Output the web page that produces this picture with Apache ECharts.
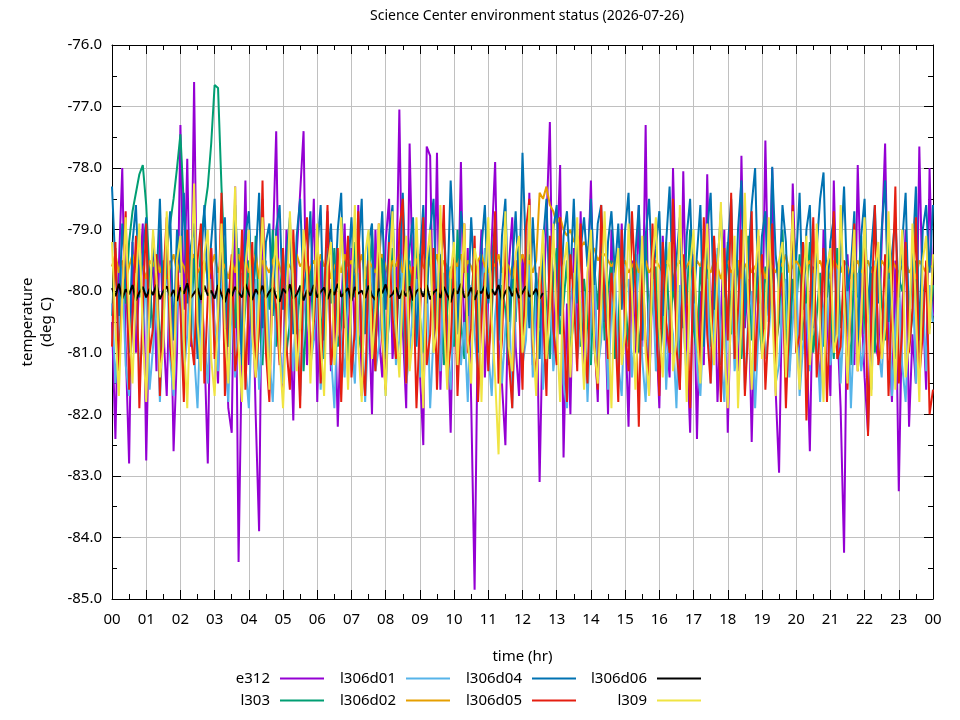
<!DOCTYPE html>
<html>
<head>
<meta charset="utf-8">
<script src="https://cdn.jsdelivr.net/npm/echarts/dist/echarts.min.js"></script>
<style>html,body{margin:0;padding:0;background:#fff}#c{width:960px;height:720px}</style>
</head>
<body>
<div id="c"></div>
<script>
// samples every 0.1 hr (6 minutes)
const SAMPLES_PER_HOUR = 10;
const xTickLabels = ['00','01','02','03','04','05','06','07','08','09','10','11','12','13','14','15','16','17','18','19','20','21','22','23','00'];
const seriesNames = ['e312','l303','l306d01','l306d02','l306d04','l306d05','l306d06','l309'];

const e312 = [
-80.5,-82.4,-79.6,-78.0,-80.9,-82.8,-79.2,-81.0,-79.8,-78.9,
-82.75,-80.1,-79.4,-81.3,-79.0,-80.6,-81.7,-79.5,-82.6,-81.0,
-77.3,-80.3,-77.85,-80.9,-76.6,-81.0,-79.7,-80.9,-82.8,-79.3,
-80.6,-81.5,-79.1,-80.2,-81.9,-82.3,-78.3,-84.4,-80.8,-78.2,
-81.2,-79.6,-82.0,-83.9,-78.5,-80.7,-81.4,-79.3,-77.4,-80.9,
-81.6,-79.0,-80.3,-82.1,-79.4,-78.4,-77.4,-81.2,-80.0,-78.5,
-81.8,-79.5,-80.6,-78.7,-81.3,-79.9,-82.2,-80.4,-78.9,-81.0,
-79.3,-80.8,-78.6,-81.7,-79.6,-80.2,-82.0,-79.0,-80.7,-81.4,
-79.2,-78.5,-81.1,-80.3,-77.05,-80.6,-81.9,-77.6,-80.1,-79.4,
-81.3,-82.5,-77.65,-77.8,-80.9,-77.75,-81.6,-79.8,-80.4,-82.3,
-79.5,-80.7,-77.9,-81.0,-79.3,-81.8,-84.85,-80.2,-79.0,-81.4,
-80.1,-79.2,-77.9,-80.8,-81.5,-82.5,-79.6,-78.8,-80.9,-81.7,
-79.4,-80.5,-78.4,-81.2,-79.7,-83.1,-80.3,-78.9,-77.25,-81.1,
-79.6,-77.95,-82.7,-80.2,-82.0,-79.3,-80.8,-78.7,-81.5,-79.9,
-78.2,-80.6,-81.8,-79.4,-80.1,-82.0,-79.0,-80.7,-81.3,-78.9,
-80.4,-82.2,-79.5,-81.0,-78.6,-80.9,-77.3,-81.7,-79.8,-80.5,
-81.9,-79.1,-80.6,-81.4,-78.0,-80.2,-81.6,-78.05,-80.8,-82.3,
-79.4,-82.4,-80.0,-81.2,-78.1,-80.7,-79.3,-81.8,-80.4,-79.0,
-82.3,-80.1,-79.5,-81.3,-77.8,-80.6,-79.8,-82.45,-80.2,-79.1,
-81.0,-77.55,-80.4,-78.0,-81.6,-82.95,-79.7,-80.8,-81.3,-78.25,
-80.0,-81.4,-79.2,-80.7,-82.6,-79.6,-80.9,-81.5,-79.0,-80.3,
-81.7,-78.2,-80.5,-81.9,-84.25,-79.4,-80.6,-81.2,-77.95,-80.1,
-81.4,-82.3,-79.7,-80.8,-81.1,-79.2,-77.6,-80.6,-81.8,-79.5,
-83.25,-80.3,-79.0,-82.2,-80.7,-81.5,-77.65,-80.2,-81.6,-78.0,
-80.4
];

const l303 = [
-80.4,-79.3,-80.9,-79.6,-80.2,-79.2,-78.7,-78.4,-78.1,-77.95,
-78.6,-79.8,-80.7,-79.5,-81.0,-80.1,-79.3,-78.9,-78.5,-78.0,
-77.45,-78.6,-79.7,-80.8,-79.4,-80.5,-79.2,-78.7,-78.3,-77.6,
-76.65,-76.7,-78.3,-79.6,-80.9,-79.8,-80.6,-79.3,-81.1,-80.2,
-79.5,-80.8,-79.1,-80.4,-81.2,-79.7,-80.3,-79.0,-80.9,-80.1,
-79.4,-81.0,-80.5,-79.2,-80.7,-79.9,-81.3,-80.2,-79.6,-80.8,
-79.1,-80.4,-81.1,-79.8,-80.2,-79.3,-80.9,-80.6,-79.5,-81.2,
-80.0,-79.2,-80.7,-81.0,-79.6,-80.3,-79.0,-80.8,-80.1,-79.4,
-81.1,-80.5,-79.3,-80.9,-79.7,-80.2,-81.3,-79.5,-80.6,-79.1,
-80.4,-81.0,-79.8,-79.2,-80.7,-80.1,-79.4,-81.2,-80.3,-79.6,
-80.9,-79.0,-80.5,-81.1,-79.7,-80.2,-79.3,-80.8,-80.0,-79.5,
-81.0,-80.4,-79.1,-80.7,-79.9,-80.3,-81.2,-79.6,-80.5,-79.2,
-80.8,-80.1,-79.4,-81.0,-79.7,-80.6,-79.2,-80.3,-81.1,-79.8,
-79.3,-80.7,-80.2,-79.5,-81.0,-80.4,-79.1,-80.9,-79.8,-80.5,
-81.2,-79.6,-80.3,-79.2,-80.8,-80.0,-79.5,-81.1,-80.6,-79.3,
-80.1,-80.9,-79.7,-79.4,-81.0,-80.3,-79.1,-80.7,-80.2,-79.6,
-81.3,-80.5,-79.2,-80.8,-79.9,-80.4,-81.1,-79.5,-80.2,-79.0,
-80.6,-81.0,-79.6,-80.3,-79.3,-80.9,-80.1,-79.4,-81.2,-80.5,
-79.2,-80.7,-80.0,-79.5,-81.1,-80.3,-79.1,-80.8,-79.7,-80.4,
-81.0,-79.6,-80.2,-79.3,-80.9,-80.5,-79.0,-80.6,-81.2,-79.8,
-80.3,-79.4,-80.8,-80.1,-79.2,-81.0,-80.4,-79.7,-80.9,-79.5,
-80.2,-81.1,-79.3,-80.6,-79.9,-80.4,-81.2,-79.5,-80.1,-79.1,
-80.7,-80.3,-79.6,-81.0,-79.4,-80.2,-80.8,-79.2,-80.5,-81.1,
-79.8,-80.0,-79.3,-80.9,-80.4,-79.5,-81.0,-80.2,-79.7,-80.6,
-79.9
];

const l306d01 = [
-80.2,-81.5,-80.6,-79.6,-81.2,-81.7,-80.4,-79.9,-81.3,-80.8,
-79.7,-81.6,-80.9,-80.1,-81.8,-80.5,-79.5,-81.1,-81.7,-80.3,
-79.9,-81.4,-80.7,-79.4,-81.0,-81.9,-80.2,-80.8,-81.5,-79.8,
-80.6,-81.3,-79.6,-80.9,-81.8,-80.1,-81.4,-80.5,-79.7,-81.2,
-81.9,-80.3,-79.8,-81.6,-80.7,-79.5,-81.1,-81.8,-80.2,-80.9,
-81.5,-79.9,-80.6,-81.3,-80.0,-81.7,-80.4,-79.6,-81.2,-80.8,
-79.8,-81.6,-80.5,-79.3,-81.0,-81.9,-80.3,-80.7,-81.4,-79.9,
-80.8,-81.5,-79.7,-80.4,-81.8,-80.6,-79.5,-81.3,-80.9,-80.1,
-81.7,-80.2,-79.6,-81.2,-80.8,-79.4,-81.5,-81.0,-80.3,-79.8,
-81.4,-80.6,-79.5,-81.9,-80.7,-80.0,-81.3,-79.7,-80.9,-81.6,
-80.1,-79.6,-81.2,-80.5,-81.8,-79.9,-80.7,-81.4,-80.2,-79.3,
-81.0,-81.7,-80.4,-79.8,-81.5,-80.6,-80.0,-81.9,-80.3,-79.6,
-81.2,-80.8,-79.5,-81.4,-80.1,-79.8,-81.6,-80.5,-79.9,-81.3,
-80.7,-79.6,-81.5,-81.9,-80.2,-79.7,-81.1,-80.6,-80.0,-81.8,
-80.4,-79.5,-81.3,-80.8,-79.9,-81.6,-80.3,-79.6,-81.2,-81.7,
-80.0,-79.8,-81.4,-80.6,-79.4,-81.1,-81.8,-80.2,-79.7,-81.3,
-80.9,-79.5,-81.6,-80.3,-80.7,-81.9,-79.9,-80.5,-81.4,-80.1,
-79.6,-81.2,-81.7,-80.4,-79.8,-81.5,-80.6,-79.3,-81.0,-81.8,
-80.2,-79.7,-81.3,-80.8,-79.5,-81.6,-80.4,-80.0,-81.9,-80.6,
-79.6,-81.1,-80.7,-79.9,-81.5,-81.2,-80.1,-79.8,-81.4,-80.5,
-79.5,-81.7,-80.9,-80.2,-81.3,-79.7,-80.6,-81.8,-80.3,-79.9,
-81.2,-80.7,-79.6,-81.5,-80.4,-79.8,-81.9,-80.5,-79.7,-81.3,
-80.8,-80.1,-81.6,-79.5,-80.9,-81.4,-80.2,-79.8,-81.7,-80.6,
-79.7,-81.2,-81.8,-80.3,-79.6,-81.5,-80.7,-80.0,-81.3,-79.9,
-80.5
];

const l306d02 = [
-79.6,-79.4,-79.7,-79.5,-79.8,-79.6,-79.4,-79.7,-79.5,-79.6,
-79.8,-79.5,-79.6,-79.4,-79.7,-79.5,-79.8,-79.6,-79.4,-79.7,
-79.5,-79.6,-79.8,-79.5,-79.4,-79.7,-79.6,-79.5,-79.8,-79.6,
-79.4,-79.7,-79.5,-79.6,-79.8,-79.5,-79.7,-79.4,-79.6,-79.5,
-79.7,-79.6,-79.4,-79.8,-79.5,-79.6,-79.7,-79.5,-79.4,-79.6,
-79.8,-79.5,-79.6,-79.7,-79.4,-79.6,-79.5,-79.8,-79.6,-79.5,
-79.7,-79.4,-79.6,-79.5,-79.8,-79.6,-79.5,-79.7,-79.4,-79.6,
-79.5,-79.7,-79.6,-79.4,-79.8,-79.5,-79.6,-79.7,-79.5,-79.4,
-79.6,-79.8,-79.5,-79.6,-79.4,-79.7,-79.5,-79.6,-79.8,-79.5,
-79.4,-79.6,-79.7,-79.5,-79.6,-79.4,-79.7,-79.5,-79.6,-79.8,
-79.5,-79.6,-79.4,-79.7,-79.5,-79.6,-79.8,-79.5,-79.4,-79.6,
-79.7,-79.5,-79.6,-79.4,-79.7,-79.5,-79.6,-79.8,-79.5,-79.6,
-79.4,-79.6,-79.5,-79.7,-79.5,-78.4,-78.5,-78.3,-78.6,-78.7,
-78.9,-78.8,-79.0,-79.1,-79.0,-79.2,-79.1,-79.3,-79.2,-79.3,
-79.4,-79.3,-79.5,-79.4,-79.4,-79.5,-79.6,-79.5,-79.4,-79.6,
-79.5,-79.7,-79.6,-79.5,-79.7,-79.6,-79.5,-79.7,-79.6,-79.5,
-79.6,-79.7,-79.5,-79.6,-79.8,-79.6,-79.5,-79.7,-79.6,-79.5,
-79.7,-79.5,-79.6,-79.4,-79.6,-79.7,-79.5,-79.6,-79.8,-79.6,
-79.5,-79.7,-79.6,-79.5,-79.8,-79.6,-79.5,-79.7,-79.6,-79.5,
-79.6,-79.8,-79.5,-79.6,-79.7,-79.5,-79.6,-79.4,-79.7,-79.6,
-79.5,-79.6,-79.8,-79.6,-79.5,-79.7,-79.6,-79.5,-79.7,-79.6,
-79.8,-79.5,-79.6,-79.7,-79.5,-79.6,-79.8,-79.6,-79.5,-79.7,
-79.6,-79.5,-79.7,-79.6,-79.8,-79.5,-79.6,-79.7,-79.5,-79.6,
-79.7,-79.6,-79.5,-79.7,-79.6,-79.8,-79.5,-79.6,-79.7,-79.6,
-79.6
];

const l306d04 = [
-78.3,-79.6,-80.4,-78.9,-79.8,-81.0,-79.2,-78.6,-80.1,-79.4,
-78.8,-80.6,-79.1,-79.9,-78.5,-80.3,-79.5,-78.7,-80.8,-79.0,
-79.7,-78.4,-80.2,-79.3,-78.9,-81.1,-79.6,-78.6,-80.0,-79.2,
-78.5,-80.5,-79.4,-78.8,-80.9,-79.7,-78.6,-79.9,-81.2,-79.1,
-78.7,-80.1,-79.5,-78.4,-80.6,-79.2,-78.9,-80.4,-79.0,-78.6,
-80.3,-79.4,-78.8,-80.7,-79.1,-78.5,-80.0,-79.6,-78.7,-80.5,
-79.3,-78.6,-80.8,-79.5,-78.9,-80.2,-79.0,-78.4,-80.6,-79.7,
-78.8,-80.1,-79.4,-78.5,-80.7,-79.2,-78.9,-81.0,-79.6,-78.7,
-80.3,-79.1,-78.6,-80.5,-79.8,-78.4,-80.0,-79.3,-78.8,-80.9,
-79.5,-78.6,-80.2,-79.0,-78.5,-80.6,-79.7,-78.9,-80.1,-78.2,
-79.4,-80.7,-78.7,-79.2,-80.4,-78.8,-79.9,-81.0,-79.3,-78.6,
-80.2,-79.5,-78.9,-80.8,-79.1,-78.5,-80.5,-79.6,-78.7,-80.0,
-77.75,-79.4,-80.6,-78.8,-79.9,-81.1,-79.2,-78.5,-80.3,-79.0,
-78.6,-80.4,-79.1,-78.7,-79.8,-78.5,-80.2,-79.3,-78.8,-79.6,
-78.5,-79.9,-78.9,-78.6,-80.5,-79.2,-78.7,-79.7,-78.9,-80.3,
-79.0,-78.4,-80.1,-79.4,-78.6,-80.8,-79.1,-78.5,-79.8,-79.3,
-78.7,-80.4,-79.2,-78.3,-80.0,-79.5,-78.8,-80.6,-79.1,-78.5,
-80.2,-79.4,-78.6,-80.9,-79.0,-78.4,-80.3,-79.6,-78.7,-80.1,
-79.3,-78.5,-80.7,-79.0,-78.2,-80.4,-79.5,-78.6,-78.0,-80.2,
-79.1,-78.7,-80.5,-77.98,-79.4,-80.0,-78.6,-79.2,-80.8,-78.9,
-79.5,-78.4,-80.3,-79.0,-78.6,-80.6,-79.3,-78.5,-78.07,-80.1,
-79.2,-78.8,-80.7,-79.4,-78.3,-80.0,-79.6,-78.7,-80.9,-79.1,
-78.5,-80.4,-79.3,-78.6,-80.2,-79.0,-78.2,-80.5,-79.4,-78.8,
-80.1,-79.2,-78.4,-80.6,-79.5,-78.3,-80.8,-79.0,-78.6,-79.7,
-78.6
];

const l306d05 = [
-80.9,-79.2,-81.3,-80.0,-78.7,-81.6,-80.4,-79.1,-81.9,-80.2,
-78.9,-81.0,-80.6,-79.4,-81.7,-79.8,-78.8,-80.9,-81.4,-79.6,
-80.3,-81.8,-79.0,-80.7,-81.2,-79.5,-78.9,-81.5,-80.1,-79.3,
-81.1,-80.5,-78.4,-81.7,-80.2,-79.4,-81.3,-80.8,-79.0,-81.6,
-80.0,-79.2,-81.4,-80.6,-78.2,-81.0,-81.8,-79.7,-80.3,-81.2,
-79.3,-80.9,-81.6,-79.0,-80.4,-81.9,-79.6,-78.8,-81.1,-80.5,
-79.4,-81.5,-80.1,-78.6,-81.2,-80.7,-79.3,-81.8,-80.0,-79.1,
-81.4,-80.6,-78.7,-81.0,-81.7,-79.5,-80.3,-81.3,-78.9,-80.8,
-81.6,-79.2,-80.4,-81.1,-79.0,-78.5,-81.5,-80.2,-79.6,-81.9,
-80.5,-78.8,-81.2,-80.7,-79.3,-81.6,-80.0,-78.6,-81.4,-80.9,
-79.4,-81.7,-80.3,-78.9,-81.0,-80.6,-79.1,-81.8,-80.4,-79.7,
-81.3,-80.1,-78.7,-81.5,-80.8,-79.2,-81.1,-81.9,-79.5,-80.2,
-81.6,-79.0,-78.5,-80.9,-81.4,-79.6,-80.3,-81.7,-79.1,-80.6,
-81.2,-78.8,-80.5,-81.8,-79.4,-80.1,-81.3,-78.9,-80.7,-81.5,
-79.3,-80.9,-81.6,-78.6,-80.2,-81.1,-79.7,-80.4,-81.8,-79.0,
-80.6,-81.3,-78.7,-80.0,-82.2,-79.5,-80.8,-81.4,-78.9,-80.3,
-81.7,-79.2,-80.5,-81.0,-78.5,-80.9,-81.6,-79.4,-80.1,-81.9,
-79.6,-80.4,-81.2,-78.8,-80.7,-81.5,-79.1,-80.2,-81.8,-79.3,
-80.8,-78.4,-81.1,-80.3,-79.0,-81.7,-80.6,-78.7,-81.3,-80.0,
-79.4,-81.6,-80.5,-78.9,-81.2,-80.1,-79.7,-81.9,-80.4,-78.6,
-81.0,-80.7,-79.2,-82.1,-80.3,-78.8,-81.4,-80.6,-79.3,-81.8,
-80.2,-78.7,-81.1,-80.9,-79.5,-81.6,-80.0,-78.9,-81.3,-80.5,
-79.1,-82.35,-80.4,-78.6,-81.2,-80.8,-79.4,-81.7,-80.1,-78.3,
-81.5,-80.6,-79.2,-81.0,-80.3,-78.8,-81.4,-80.7,-79.5,-82.0,
-81.6
];

// logged only until about 12.6 hr
const l306d06 = [
-79.95,-80.08,-79.88,-80.12,-79.97,-80.05,-79.90,-80.15,-80.02,-79.93,
-80.10,-79.96,-80.06,-79.89,-80.13,-80.00,-79.92,-80.09,-79.98,-80.16,
-79.94,-80.04,-79.87,-80.11,-80.03,-79.95,-80.14,-79.91,-80.07,-79.99,
-80.12,-79.90,-80.05,-80.18,-79.96,-80.08,-79.93,-80.02,-80.10,-79.88,
-80.04,-80.14,-79.97,-80.06,-79.91,-80.11,-80.01,-79.94,-80.09,-80.17,
-79.96,-80.03,-79.89,-80.12,-80.05,-79.92,-80.15,-79.98,-80.07,-79.90,
-80.10,-80.01,-79.94,-80.13,-79.97,-80.06,-79.88,-80.09,-80.02,-79.95,
-80.16,-79.93,-80.04,-79.99,-80.11,-79.91,-80.07,-80.14,-79.96,-80.03,
-79.89,-80.10,-80.05,-79.94,-80.12,-79.98,-80.08,-79.92,-80.15,-80.00,
-79.95,-80.09,-79.90,-80.13,-80.02,-79.97,-80.11,-79.93,-80.06,-80.18,
-79.96,-80.04,-79.88,-80.10,-80.07,-79.94,-80.14,-79.99,-80.03,-79.91,
-80.12,-79.97,-80.06,-79.90,-80.15,-80.01,-79.93,-80.08,-79.95,-80.11,
-80.02,-79.92,-80.09,-80.05,-79.96,-80.12,-80.03
];

const l309 = [
-79.2,-80.6,-81.7,-80.1,-78.8,-80.4,-81.5,-79.9,-78.9,-80.7,
-81.8,-80.2,-79.0,-79.8,-81.4,-80.9,-78.7,-80.3,-81.6,-79.5,
-79.1,-80.8,-81.9,-80.0,-78.25,-80.5,-81.3,-79.4,-79.0,-81.1,
-81.7,-80.3,-78.9,-80.6,-81.5,-79.7,-78.3,-80.9,-81.8,-79.6,
-79.0,-80.7,-81.4,-80.1,-78.8,-80.2,-81.6,-79.8,-79.1,-81.0,
-81.9,-80.4,-78.7,-80.0,-81.3,-80.6,-79.0,-79.7,-81.5,-80.2,
-78.9,-80.8,-81.7,-79.6,-79.2,-81.2,-80.5,-78.8,-80.1,-81.6,
-80.0,-78.6,-80.9,-81.8,-79.4,-79.0,-81.1,-80.3,-78.9,-80.6,
-81.7,-79.8,-78.7,-80.5,-81.4,-80.0,-79.1,-81.3,-80.7,-78.8,
-80.2,-81.9,-79.5,-79.0,-81.0,-80.6,-78.6,-80.4,-81.6,-79.7,
-79.2,-81.2,-80.1,-78.9,-80.8,-81.5,-79.3,-79.6,-81.8,-80.0,
-78.8,-80.5,-81.4,-82.65,-80.2,-78.7,-80.9,-81.3,-79.4,-79.1,
-81.0,-80.4,-78.6,-80.7,-81.7,-79.9,-79.0,-81.1,-80.3,-78.9,
-80.6,-81.8,-79.6,-79.2,-81.4,-80.1,-78.8,-80.5,-81.6,-79.7,
-79.0,-80.9,-81.5,-80.2,-78.7,-80.4,-81.9,-79.8,-79.3,-81.2,
-80.7,-78.9,-80.0,-81.6,-80.3,-79.1,-81.0,-81.7,-79.5,-78.8,
-80.6,-81.4,-79.9,-79.2,-81.3,-80.8,-78.6,-80.1,-81.8,-79.6,
-79.0,-80.7,-81.5,-80.0,-78.9,-80.4,-81.2,-79.7,-78.55,-80.9,
-81.9,-80.3,-79.1,-81.9,-80.5,-78.4,-80.2,-81.6,-79.8,-79.0,
-81.1,-80.6,-78.8,-80.3,-81.7,-79.5,-79.2,-81.4,-80.0,-78.7,
-80.8,-81.6,-79.9,-79.1,-81.2,-80.4,-78.9,-80.6,-81.8,-79.6,
-79.3,-81.0,-80.7,-78.6,-80.1,-81.5,-80.0,-79.0,-81.3,-80.5,
-78.8,-80.4,-81.7,-79.7,-79.2,-81.1,-80.6,-78.7,-80.2,-81.6,
-79.9,-79.0,-81.4,-80.8,-78.9,-80.3,-81.8,-79.5,-79.1,-80.7,
-79.4
];

const seriesValues = [e312, l303, l306d01, l306d02, l306d04, l306d05, l306d06, l309];
const seriesColors = ['#9400d3','#009e73','#56b4e9','#e69f00','#0072b2','#e51e10','#000000','#f0e442'];

const FONT = 'Noto Sans';
const chart = echarts.init(document.getElementById('c'), null, {renderer: 'canvas'});

const toPairs = vals => vals.map((v, i) => [i / SAMPLES_PER_HOUR, v]);

// legend placement: [column, row]
const legendSlots = {e312:[0,0], l303:[0,1], l306d01:[1,0], l306d02:[1,1], l306d04:[2,0], l306d05:[2,1], l306d06:[3,0], l309:[3,1]};
const colRight = [636, 510, 384, 259];
const rowTop = [671, 693];

const legends = seriesNames.map(n => ({
  data: [n],
  right: colRight[legendSlots[n][0]],
  top: rowTop[legendSlots[n][1]],
  align: 'right',
  icon: 'rect',
  itemWidth: 44,
  itemHeight: 2,
  padding: 0,
  selectedMode: false,
  textStyle: {fontFamily: FONT, fontSize: 15, color: '#000', padding: [0, 5, 0, 0]}
}));

const axisCommon = {
  axisLine: {show: true, onZero: false, lineStyle: {color: '#000', width: 1}},
  axisTick: {show: true, inside: true, length: 9, lineStyle: {color: '#000'}},
  minorTick: {show: true, splitNumber: 2, length: 5, lineStyle: {color: '#000'}},
};

const option = {
  animation: false,
  backgroundColor: '#fff',
  title: {
    text: 'Science Center environment status (2026-07-26)',
    left: 522, top: 4, textAlign: 'center',
    textStyle: {fontFamily: FONT, fontSize: 14, fontWeight: 'normal', color: '#000'}
  },
  legend: legends,
  grid: {left: 112, right: 27, top: 45, bottom: 121, containLabel: false},
  xAxis: [
    Object.assign({
      type: 'value', min: 0, max: 24, interval: 1, position: 'bottom',
      name: 'time (hr)', nameLocation: 'middle', nameGap: 50,
      nameTextStyle: {fontFamily: FONT, fontSize: 15, color: '#000'},
      axisLabel: {fontFamily: FONT, fontSize: 15, color: '#000', margin: 13,
        formatter: v => xTickLabels[Math.round(v)]},
      splitLine: {show: true, lineStyle: {color: '#c0c0c0', width: 1}}
    }, axisCommon),
    Object.assign({
      type: 'value', min: 0, max: 24, interval: 1, position: 'top',
      axisLabel: {show: false}, splitLine: {show: false}
    }, axisCommon)
  ],
  yAxis: [
    Object.assign({
      type: 'value', min: -85, max: -76, interval: 1, position: 'left',
      name: 'temperature\n(deg C)', nameLocation: 'middle', nameGap: 52,
      nameTextStyle: {fontFamily: FONT, fontSize: 15, color: '#000', lineHeight: 19},
      axisLabel: {fontFamily: FONT, fontSize: 15, color: '#000', margin: 10,
        formatter: v => v.toFixed(1)},
      splitLine: {show: true, lineStyle: {color: '#c0c0c0', width: 1}}
    }, axisCommon),
    Object.assign({
      type: 'value', min: -85, max: -76, interval: 1, position: 'right',
      axisLabel: {show: false}, splitLine: {show: false}
    }, axisCommon)
  ],
  series: seriesNames.map((n, k) => ({
    name: n,
    type: 'line',
    xAxisIndex: 0, yAxisIndex: 0,
    data: toPairs(seriesValues[k]),
    symbol: 'none',
    showSymbol: false,
    color: seriesColors[k],
    lineStyle: {color: seriesColors[k], width: 2},
    clip: true,
    z: 2 + k
  }))
};

chart.setOption(option);
</script>
</body>
</html>
